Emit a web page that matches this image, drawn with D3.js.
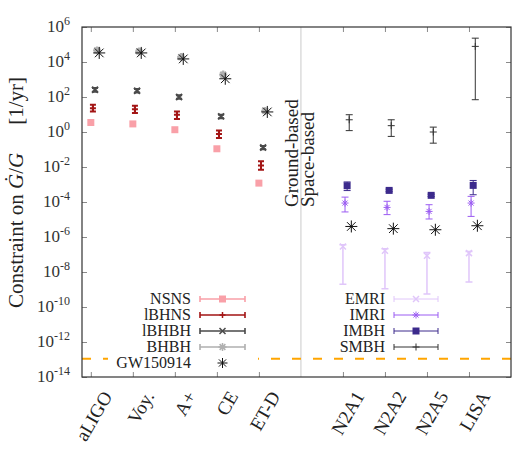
<!DOCTYPE html>
<html>
<head>
<meta charset="utf-8">
<script src="https://cdn.jsdelivr.net/npm/d3@7"></script>
<style>
  body { margin: 0; background: #fff; }
  svg { font-family: "Liberation Serif", "DejaVu Serif", serif; }
</style>
</head>
<body>
<div id="chart"></div>
<script>
/*categories along the x axis (index 6 is the ground/space separator)*/
var groundNames = ["aLIGO", "Voy.", "A+", "CE", "ET-D"];
var groundIdx = [1, 2, 3, 4, 5];
var spaceNames = ["N2A1", "N2A2", "N2A5", "LISA"];
var spaceIdx = [7, 8, 9, 10];
var yTicks = [1e-14, 1e-12, 1e-10, 1e-8, 1e-6, 1e-4, 1e-2, 1e0, 1e2, 1e4, 1e6];
var yExponents = [-14, -12, -10, -8, -6, -4, -2, 0, 2, 4, 6];

/*ground-based detectors*/
var nsns = [3.5, 2.9, 1.35, 0.11, 1.2e-3];
var lbhns = [23, 20, 9.7, 0.77, 0.012];
var lbhnsLo = [15, 12, 5.5, 0.45, 0.007];
var lbhnsHi = [36, 32, 15, 1.2, 0.021];
var lbhbh = [260, 230, 100, 7.8, 0.13];
var lbhbhLo = [200, 180, 80, 6.2, 0.105];
var lbhbhHi = [330, 290, 125, 9.8, 0.16];
var bhbh = [4.6e4, 4.0e4, 1.9e4, 1.9e3, 16];
var gwGround = [3.3e4, 3.3e4, 1.5e4, 1.1e3, 14];

/*space-based detectors*/
var emri = [2.9e-7, 1.65e-7, 8.5e-8, 1.2e-7];
var emriLo = [2e-9, 1.1e-9, 5.5e-10, 2.7e-9];
var emriHi = [3.6e-7, 2.1e-7, 1.3e-7, 1.5e-7];
var imri = [8.7e-5, 4.9e-5, 2.9e-5, 8.7e-5];
var imriLo = [2.7e-5, 1.9e-5, 1.07e-5, 1.5e-5];
var imriHi = [1.9e-4, 1.1e-4, 7e-5, 2.1e-4];
var imbh = [8.5e-4, 4.6e-4, 2.4e-4, 8.9e-4];
var imbhLo = [4.5e-4, 3.9e-4, 2.05e-4, 2.6e-4];
var imbhHi = [1.4e-3, 5.4e-4, 2.8e-4, 1.7e-3];
var smbh = [5, 2.3, 1.0, 7.8e4];
var smbhLo = [1.2, 0.56, 0.23, 70];
var smbhHi = [9.7, 5, 1.9, 2.3e5];
var gwSpace = [4e-6, 3e-6, 2.6e-6, 4.4e-6];

var floorValue = 1.1e-13;

/*svg size and plot area*/
var svgWidth = 525, svgHeight = 450;
var margin = {top: 27, right: 14, bottom: 73, left: 82};
var width = svgWidth - margin.left - margin.right;
var height = svgHeight - margin.top - margin.bottom;

var svg = d3.select("#chart").append("svg")
  .attr("width", svgWidth)
  .attr("height", svgHeight);

var g = svg.append("g")
  .attr("transform", `translate(${margin.left}, ${margin.top})`);

var xScale = d3.scaleLinear().domain([0.79, 11]).range([0, width]);
var yScale = d3.scaleLog().domain([1e-14, 1e6]).range([height, 0]);

/*marker shapes*/
function markerPath(type, s) {
  var h = s / 2;
  if (type == "square") return `M${-h},${-h}H${h}V${h}H${-h}Z`;
  if (type == "plus") return `M${-h},0H${h}M0,${-h}V${h}`;
  if (type == "cross") return `M${-h},${-h}L${h},${h}M${-h},${h}L${h},${-h}`;
  /*asterisk = plus + cross*/
  var d = h * 0.72;
  return `M${-h},0H${h}M0,${-h}V${h}M${-d},${-d}L${d},${d}M${-d},${d}L${d},${-d}`;
}

/*separator between ground and space*/
g.append("line")
  .attr("x1", xScale(6)).attr("x2", xScale(6))
  .attr("y1", 0).attr("y2", height)
  .attr("stroke", "#dcdcdc").attr("stroke-width", 1.5);

/*floor line*/
g.append("line")
  .attr("x1", 0).attr("x2", width)
  .attr("y1", yScale(floorValue)).attr("y2", yScale(floorValue))
  .attr("stroke", "#ffa500").attr("stroke-width", 2)
  .attr("stroke-dasharray", "9,12");

/*axes: ticks pointing inward on all sides*/
var tickCol = "#8a8a8a";
var xTickVals = groundIdx.concat(spaceIdx);
var axes = [
  g.append("g").attr("transform", `translate(0,${height})`)
    .call(d3.axisBottom(xScale).tickValues(xTickVals).tickSize(-5).tickFormat("")),
  g.append("g")
    .call(d3.axisTop(xScale).tickValues(xTickVals).tickSize(-5).tickFormat("")),
  g.append("g")
    .call(d3.axisLeft(yScale).tickValues(yTicks).tickSize(-5).tickFormat("")),
  g.append("g").attr("transform", `translate(${width},0)`)
    .call(d3.axisRight(yScale).tickValues(yTicks).tickSize(-5).tickFormat(""))
];
axes.forEach(function(a) {
  a.select(".domain").remove();
  a.selectAll(".tick line").attr("stroke", tickCol).attr("stroke-width", 1);
});

/*y tick labels as 10^n*/
yTicks.forEach(function(t, i) {
  var lab = g.append("text")
    .attr("x", -12)
    .attr("y", yScale(t) + 5)
    .attr("text-anchor", "end")
    .attr("font-size", 17)
    .attr("fill", "#333");
  lab.append("tspan").text("10");
  lab.append("tspan").attr("dy", -7).attr("font-size", 12).text(yExponents[i]);
});

/*frame*/
g.append("rect")
  .attr("width", width).attr("height", height)
  .attr("fill", "none").attr("stroke", "#333").attr("stroke-width", 1.2);

/*x labels rotated*/
var allNames = groundNames.concat(spaceNames);
allNames.forEach(function(n, i) {
  var xv = xScale(xTickVals[i]) + 22;
  g.append("text")
    .attr("transform", `translate(${xv},${height + 19}) rotate(-60)`)
    .attr("text-anchor", "end")
    .attr("font-size", 19)
    .attr("fill", "#222")
    .text(n);
});

/*y axis label*/
var yl = svg.append("text")
  .attr("transform", `translate(23,308) rotate(-90)`)
  .attr("text-anchor", "start")
  .attr("font-size", 21)
  .attr("fill", "#222");
yl.append("tspan").text("Constraint on ");
yl.append("tspan").attr("font-style", "italic").text("\u0120");
yl.append("tspan").text("/");
yl.append("tspan").attr("font-style", "italic").text("G");
yl.append("tspan").attr("dx", 28).text("[1/yr]");

/*ground / space annotation*/
g.append("text")
  .attr("transform", `translate(${xScale(6) - 3},${207 - margin.top}) rotate(-90)`)
  .attr("font-size", 19).attr("fill", "#222")
  .text("Ground-based");
g.append("text")
  .attr("transform", `translate(${xScale(6) + 13},${207 - margin.top}) rotate(-90)`)
  .attr("font-size", 19).attr("fill", "#222")
  .text("Space-based");

/*draw a series with optional error bars*/
function drawSeries(idx, vals, lo, hi, opt) {
  var sg = g.append("g");
  vals.forEach(function(v, i) {
    var cx = xScale(idx[i] + opt.dx);
    if (lo) {
      var y1 = yScale(lo[i]), y2 = yScale(hi[i]), c = opt.cap / 2;
      sg.append("path")
        .attr("d", `M${cx},${y1}V${y2}M${cx - c},${y1}H${cx + c}M${cx - c},${y2}H${cx + c}`)
        .attr("fill", "none").attr("stroke", opt.color).attr("stroke-width", opt.ew);
    }
    sg.append("path")
      .attr("transform", `translate(${cx},${yScale(v)})`)
      .attr("d", markerPath(opt.shape, opt.size))
      .attr("fill", opt.shape == "square" ? opt.color : "none")
      .attr("stroke", opt.shape == "square" ? "none" : opt.color)
      .attr("stroke-width", opt.sw);
  });
}

var styles = {
  nsns: {color: "#f9a0a8", shape: "square", size: 7, sw: 1, ew: 1.5, cap: 6, dx: 0},
  lbhns: {color: "#a31515", shape: "plus", size: 6, sw: 2, ew: 2, cap: 6, dx: 0.05},
  lbhbh: {color: "#4a4a4a", shape: "cross", size: 6, sw: 2, ew: 2, cap: 6, dx: 0.1},
  bhbh: {color: "#b0b0b0", shape: "asterisk", size: 8, sw: 2.2, ew: 2, cap: 6, dx: 0.15},
  gw: {color: "#111", shape: "asterisk", size: 12, sw: 1, ew: 1, cap: 6, dx: 0.2},
  emri: {color: "#e0c6fa", shape: "cross", size: 6, sw: 1.5, ew: 1.5, cap: 7, dx: 0},
  imri: {color: "#9b5cf2", shape: "asterisk", size: 7, sw: 1, ew: 1, cap: 7, dx: 0.05},
  imbh: {color: "#3c2a8c", shape: "square", size: 7, sw: 1, ew: 1, cap: 7, dx: 0.1},
  smbh: {color: "#333", shape: "plus", size: 7, sw: 1, ew: 1, cap: 7, dx: 0.15}
};

drawSeries(groundIdx, bhbh, null, null, styles.bhbh);
drawSeries(groundIdx, nsns, null, null, styles.nsns);
drawSeries(groundIdx, lbhns, lbhnsLo, lbhnsHi, styles.lbhns);
drawSeries(groundIdx, lbhbh, lbhbhLo, lbhbhHi, styles.lbhbh);
drawSeries(groundIdx, gwGround, null, null, styles.gw);
drawSeries(spaceIdx, emri, emriLo, emriHi, styles.emri);
drawSeries(spaceIdx, imri, imriLo, imriHi, styles.imri);
drawSeries(spaceIdx, imbh, imbhLo, imbhHi, styles.imbh);
drawSeries(spaceIdx, smbh, smbhLo, smbhHi, styles.smbh);
drawSeries(spaceIdx, gwSpace, null, null, styles.gw);

/*legends*/
var leftLegend = [["NSNS", "nsns"], ["lBHNS", "lbhns"], ["lBHBH", "lbhbh"], ["BHBH", "bhbh"], ["GW150914", "gw"]];
var rightLegend = [["EMRI", "emri"], ["IMRI", "imri"], ["IMBH", "imbh"], ["SMBH", "smbh"]];

svg.append("rect")
  .attr("x", 108).attr("y", 290).attr("width", 150).attr("height", 80)
  .attr("fill", "#fff");

function drawLegend(items, textX, lineX0, lineX1) {
  items.forEach(function(it, i) {
    var cy = 299 + i * 16;
    var st = styles[it[1]];
    svg.append("text")
      .attr("x", textX).attr("y", cy + 5)
      .attr("text-anchor", "end")
      .attr("font-size", 16).attr("fill", "#222")
      .text(it[0]);
    var mx = (lineX0 + lineX1) / 2;
    if (it[1] != "gw") {
      svg.append("path")
        .attr("d", `M${lineX0},${cy}H${lineX1}M${lineX0},${cy - 3}V${cy + 3}M${lineX1},${cy - 3}V${cy + 3}`)
        .attr("fill", "none").attr("stroke", st.color).attr("stroke-width", it[1] == "smbh" || it[1] == "imri" || it[1] == "imbh" || it[1] == "emri" ? 1 : 1.6);
    }
    svg.append("path")
      .attr("transform", `translate(${mx},${cy})`)
      .attr("d", markerPath(st.shape, it[1] == "gw" ? 10 : st.size))
      .attr("fill", st.shape == "square" ? st.color : "none")
      .attr("stroke", st.shape == "square" ? "none" : st.color)
      .attr("stroke-width", it[1] == "gw" ? 1 : Math.min(st.sw, 1.5));
  });
}
drawLegend(leftLegend, 191, 200, 245);
drawLegend(rightLegend, 385, 394, 438);
</script>
</body>
</html>
